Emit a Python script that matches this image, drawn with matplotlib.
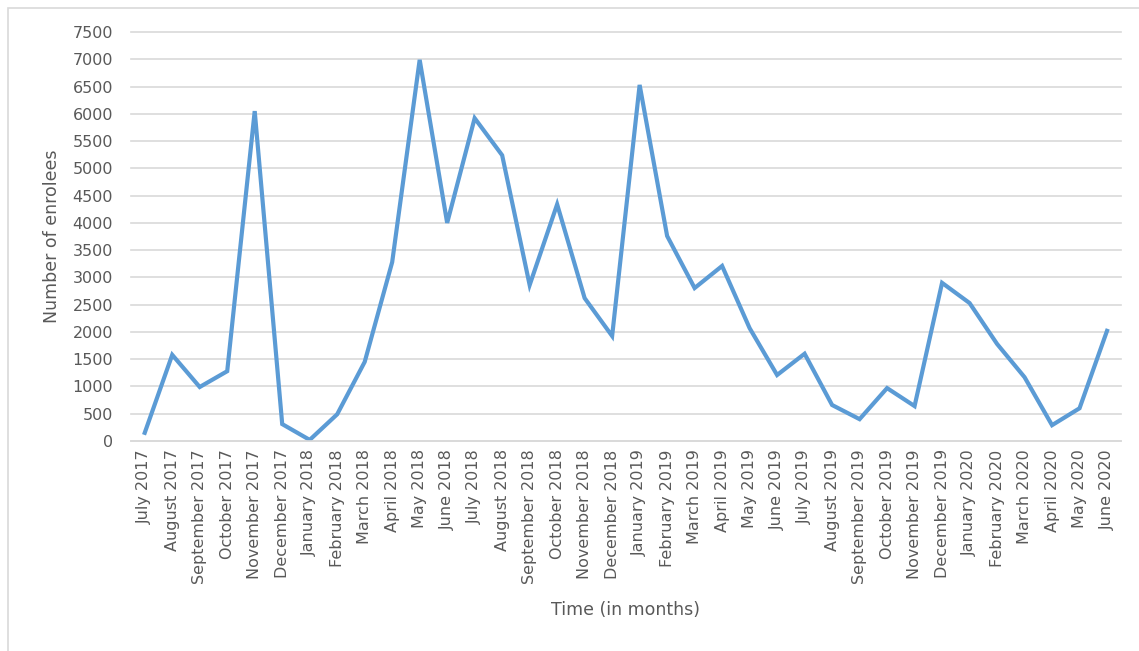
import matplotlib
matplotlib.use("Agg")
from matplotlib import pyplot as plt
from matplotlib.patches import Rectangle

months = ["July 2017", "August 2017", "September 2017", "October 2017",
          "November 2017", "December 2017", "January 2018", "February 2018",
          "March 2018", "April 2018", "May 2018", "June 2018", "July 2018",
          "August 2018", "September 2018", "October 2018", "November 2018",
          "December 2018", "January 2019", "February 2019", "March 2019",
          "April 2019", "May 2019", "June 2019", "July 2019", "August 2019",
          "September 2019", "October 2019", "November 2019", "December 2019",
          "January 2020", "February 2020", "March 2020", "April 2020",
          "May 2020", "June 2020"]
enrolees = [150, 1580, 990, 1280, 6050, 310, 20, 490, 1450, 3280, 6990,
            4000, 5920, 5240, 2860, 4340, 2620, 1925, 6530, 3760, 2805,
            3210, 2070, 1210, 1600, 660, 400, 970, 640, 2900, 2530, 1780,
            1170, 290, 600, 2020]
yticks = list(range(0, 7501, 500))

fig = plt.figure(figsize=(11.39, 6.51), dpi=100)
# light frame around the chart area
fig.patches.append(Rectangle((8 / 1139, -0.05), 1.2, 1 - 8 / 651 + 0.05,
                             transform=fig.transFigure, fill=False,
                             edgecolor="#d9d9d9", lw=1.2))

ax = fig.add_axes([0.115, 0.3226, 0.869, 0.6282])
x = range(len(months))
ax.plot(x, enrolees, color="#5b9bd5", lw=3.0, solid_joinstyle="miter")

ax.set_xlim(-0.5, len(months) - 0.5)
ax.set_ylim(0, 7500)
ax.set_yticks(yticks)
ax.set_xticks(list(x))
ax.set_xticklabels(months, rotation=90, fontsize=11.5, color="#595959")
ax.tick_params(axis="y", labelsize=11.5, colors="#595959", length=0, pad=13)
ax.tick_params(axis="x", length=0, pad=6)
ax.yaxis.grid(True, color="#d9d9d9", lw=1.2, clip_on=False)
ax.set_axisbelow(True)
for s in ["top", "right", "left"]:
    ax.spines[s].set_visible(False)
ax.spines["bottom"].set_color("#d9d9d9")
ax.spines["bottom"].set_linewidth(1.2)

ax.set_ylabel("Number of enrolees", fontsize=12.5, color="#595959", labelpad=8)
ax.set_xlabel("Time (in months)", fontsize=12.5, color="#595959", labelpad=12)

plt.savefig("out.png", dpi=100)
